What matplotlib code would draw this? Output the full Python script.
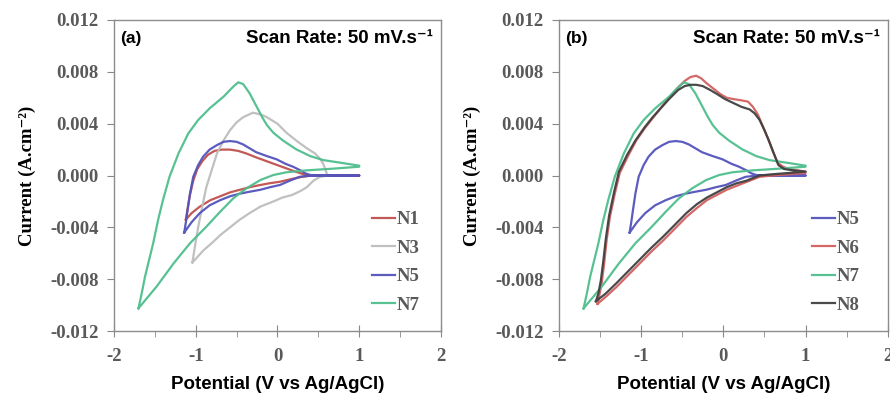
import matplotlib.pyplot as plt
from matplotlib.ticker import MultipleLocator

plt.rcParams['axes.unicode_minus'] = False

# ---- data ----
n1_v = [-1.12, -1.10, -1.07, -1.03, -0.98, -0.92, -0.85, -0.77, -0.68, -0.58, -0.48, -0.38, -0.26, -0.13, 0.00,
        0.11, 0.22, 0.32, 0.42, 0.60, 1.00,
        1.00, 0.42, 0.30, 0.15, 0.03, -0.10, -0.21, -0.34, -0.46, -0.58, -0.70, -0.82, -0.95, -1.05, -1.12]
n1_i = [-0.0034, -0.0026, -0.0015, -0.0004, 0.0005, 0.0011, 0.0016, 0.0019, 0.0020, 0.0020, 0.0019, 0.0017,
        0.0014, 0.0011, 0.0008, 0.00055, 0.0003, 0.0001, 0.0, 0.0, 0.0,
        0.0, 0.0, -0.0001, -0.0003, -0.00048, -0.0006, -0.00073, -0.0009, -0.0011, -0.0013, -0.0016, -0.0019,
        -0.0024, -0.0029, -0.0034]

n3_v = [-1.04, -1.01, -0.97, -0.92, -0.87, -0.80, -0.74, -0.66, -0.58, -0.50, -0.42, -0.30, -0.20, -0.13, 0.00,
        0.11, 0.25, 0.36, 0.46, 0.52, 0.56, 0.59, 0.61,
        0.52, 0.44, 0.36, 0.28, 0.18, 0.06, -0.05, -0.21, -0.34, -0.46, -0.58, -0.70, -0.80, -0.91, -0.98, -1.04]
n3_i = [-0.0067, -0.0055, -0.0040, -0.0024, -0.0009, 0.0005, 0.0017, 0.0027, 0.0035, 0.0041, 0.0045, 0.00485,
        0.0047, 0.0045, 0.0040, 0.0033, 0.0026, 0.0021, 0.0017, 0.0013, 0.0009, 0.0004, 0.0,
        -0.0001, -0.0004, -0.0009, -0.0012, -0.0015, -0.0017, -0.0020, -0.0024, -0.0029, -0.0034, -0.0040,
        -0.0046, -0.0052, -0.0058, -0.0063, -0.0067]

n5_v = [-1.14, -1.12, -1.10, -1.07, -1.03, -0.97, -0.91, -0.83, -0.74, -0.66, -0.58, -0.50, -0.42, -0.34, -0.26,
        -0.13, -0.01, 0.10, 0.19, 0.28, 0.34, 0.42, 0.60, 1.00,
        1.00, 0.42, 0.27, 0.15, 0.03, -0.09, -0.21, -0.34, -0.46, -0.58, -0.70, -0.83, -0.95, -1.05, -1.14]
n5_i = [-0.0044, -0.0036, -0.0027, -0.0014, -0.0001, 0.0008, 0.00145, 0.0020, 0.00235, 0.0026, 0.00266, 0.0026,
        0.0024, 0.0021, 0.0018, 0.0015, 0.00125, 0.0009, 0.00068, 0.0004, 0.00017, 0.0, 0.0, 0.0,
        0.0, 0.0, -0.0001, -0.0004, -0.00073, -0.0009, -0.0011, -0.00125, -0.0014, -0.0016, -0.0019, -0.0023,
        -0.0029, -0.0036, -0.0044]

n7_v = [-1.70, -1.66, -1.62, -1.57, -1.52, -1.46, -1.40, -1.32, -1.21, -1.09, -0.97, -0.83, -0.66, -0.54, -0.48,
        -0.42, -0.34, -0.26, -0.19, -0.13, -0.05, 0.07, 0.23, 0.40, 0.56, 0.77, 1.00,
        1.00, 0.68, 0.36, 0.11, -0.05, -0.21, -0.38, -0.54, -0.70, -0.87, -1.07, -1.27, -1.48, -1.70]
n7_i = [-0.01025, -0.00909, -0.00781, -0.00652, -0.00523, -0.00343, -0.00189, -0.00009, 0.00171, 0.00325,
        0.00428, 0.00518, 0.00608, 0.00686, 0.00719, 0.00706, 0.00634, 0.00538, 0.00454, 0.00390, 0.00330,
        0.00269, 0.00202, 0.00150, 0.00119, 0.00099, 0.00076,
        0.00068, 0.00053, 0.00040, 0.00025, 0.00004, -0.00035, -0.00099, -0.00176, -0.00279, -0.00395,
        -0.00523, -0.00678, -0.00858, -0.01025]

n6_v = [-1.53, -1.51, -1.48, -1.45, -1.42, -1.38, -1.32, -1.26, -1.16, -1.06, -0.95, -0.85, -0.75, -0.65, -0.55,
        -0.47, -0.40, -0.33, -0.27, -0.20, -0.12, -0.04, 0.04, 0.12, 0.22, 0.30, 0.36, 0.42, 0.48, 0.54, 0.60,
        0.66, 0.72, 0.80, 0.90, 1.00,
        1.00, 0.80, 0.60, 0.44, 0.36, 0.28, 0.16, 0.04, -0.08, -0.20, -0.32, -0.45, -0.59, -0.73, -0.88, -1.02,
        -1.16, -1.30, -1.42, -1.53]
n6_i = [-0.0099, -0.0093, -0.0083, -0.0068, -0.0050, -0.0032, -0.0014, 0.0002, 0.0015, 0.0027, 0.0037, 0.0045,
        0.0053, 0.0061, 0.0068, 0.0073, 0.0076, 0.0077, 0.0075, 0.0071, 0.0067, 0.0063, 0.0060, 0.0059, 0.0058,
        0.0057, 0.0053, 0.0047, 0.0038, 0.0029, 0.0019, 0.0010, 0.0007, 0.0005, 0.0004, 0.0003,
        0.0002, 0.0001, 0.0, -0.0001, -0.0003, -0.0005, -0.0008, -0.0011, -0.0015, -0.0019, -0.0025, -0.0032,
        -0.0041, -0.0050, -0.0059, -0.0068, -0.0077, -0.0086, -0.0093, -0.0099]

n8_v = [-1.55, -1.52, -1.49, -1.46, -1.43, -1.39, -1.33, -1.27, -1.17, -1.07, -0.96, -0.86, -0.76, -0.66, -0.55,
        -0.47, -0.40, -0.33, -0.25, -0.16, -0.08, 0.02, 0.12, 0.22, 0.32, 0.38, 0.44, 0.50, 0.56, 0.62, 0.67,
        0.74, 0.85, 1.00,
        1.00, 0.80, 0.60, 0.44, 0.36, 0.28, 0.16, 0.04, -0.08, -0.20, -0.32, -0.45, -0.59, -0.73, -0.88, -1.02,
        -1.16, -1.30, -1.43, -1.55]
n8_i = [-0.0097, -0.0091, -0.0081, -0.0066, -0.0049, -0.0031, -0.0013, 0.0003, 0.0016, 0.0027, 0.0037, 0.0045,
        0.0052, 0.0059, 0.0066, 0.0069, 0.0070, 0.0070, 0.0069, 0.0066, 0.0063, 0.0059, 0.0056, 0.0053, 0.0051,
        0.0048, 0.0043, 0.0035, 0.0026, 0.0016, 0.0008, 0.0005, 0.0004, 0.0003,
        0.0003, 0.0002, 0.0001, 0.0, -0.0002, -0.0004, -0.0006, -0.0009, -0.0013, -0.0017, -0.0022, -0.0029,
        -0.0038, -0.0047, -0.0056, -0.0065, -0.0074, -0.0083, -0.0091, -0.0097]

colors = {'N1': '#c0504d', 'N3': '#bdbdbd', 'N5': '#5353bd', 'N6': '#d25f5f',
          'N7': '#4fbe8d', 'N8': '#404040'}

panel_a = [('N1', n1_v, n1_i), ('N3', n3_v, n3_i), ('N5', n5_v, n5_i), ('N7', n7_v, n7_i)]
panel_b = [('N5', n5_v, n5_i), ('N6', n6_v, n6_i), ('N7', n7_v, n7_i), ('N8', n8_v, n8_i)]

serif = ['Liberation Serif', 'DejaVu Serif']
sans = ['Liberation Sans', 'DejaVu Sans']
tick_gray = '#595959'


def draw_panel(ax, curves, tag, legend_x):
    for name, v, i in curves:
        ax.plot(v, i, color=colors[name], lw=1.6, label=name, alpha=0.95)
    ax.set_xlim(-2, 2)
    ax.set_ylim(-0.012, 0.012)
    ax.xaxis.set_major_locator(MultipleLocator(1))
    ax.xaxis.set_minor_locator(MultipleLocator(0.5))
    ax.yaxis.set_major_locator(MultipleLocator(0.004))
    ax.set_yticklabels(['%.3f' % t for t in ax.get_yticks()])
    ax.tick_params(axis='x', which='major', direction='inout', length=8, color='#888888', pad=8)
    ax.tick_params(axis='x', which='minor', direction='out', length=4, color='#888888')
    ax.tick_params(axis='y', direction='out', length=5, color='#888888', pad=6)
    for lab in ax.get_xticklabels() + ax.get_yticklabels():
        lab.set_fontfamily(serif)
        lab.set_fontweight('bold')
        lab.set_fontsize(13.5)
        lab.set_color(tick_gray)
    for sp in ax.spines.values():
        sp.set_color('#8c8c8c')
        sp.set_linewidth(1.0)
    ax.set_xlabel('Potential (V vs Ag/AgCl)', family=sans, fontweight='bold', fontsize=13.5, labelpad=8)
    ax.set_ylabel('Current (A.cm\u207b\u00b2)', family=serif, fontweight='bold', fontsize=13.5,
                  labelpad=10)
    ax.text(0.02, 0.94, tag, transform=ax.transAxes, family=sans, fontweight='bold', fontsize=12.5,
            va='center', ha='left')
    ax.text(0.975, 0.94, 'Scan Rate: 50 mV.s\u207b\u00b9', transform=ax.transAxes, family=sans,
            fontweight='bold', fontsize=13.5, va='center', ha='right')
    leg = ax.legend(loc='upper left', bbox_to_anchor=(legend_x, 0.385), frameon=False, handlelength=1.2,
                    handletextpad=0.1, labelspacing=0.6, borderpad=0, borderaxespad=0,
                    prop={'family': serif, 'weight': 'bold', 'size': 13.5})
    for t in leg.get_texts():
        t.set_color(tick_gray)


fig = plt.figure(figsize=(8.9, 3.96), dpi=100)
ax1 = fig.add_axes([0.128, 0.164, 0.3675, 0.7855])
ax2 = fig.add_axes([0.628, 0.164, 0.3695, 0.7855])
draw_panel(ax1, panel_a, '(a)', 0.79)
draw_panel(ax2, panel_b, '(b)', 0.77)

fig.savefig('out.png', dpi=100)
